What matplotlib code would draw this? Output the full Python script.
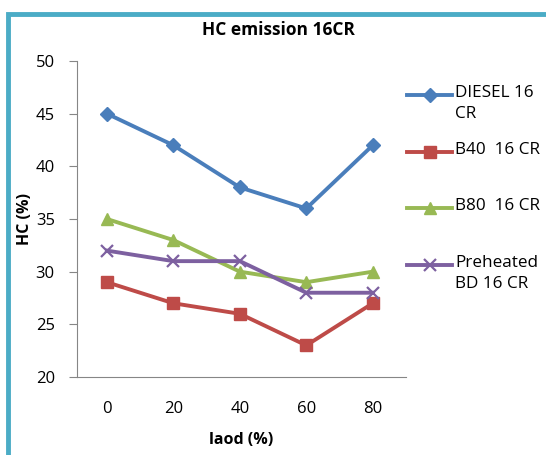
import matplotlib
matplotlib.use("Agg")
import matplotlib.pyplot as plt
from matplotlib.lines import Line2D
from matplotlib.patches import Rectangle

plt.rcParams['font.family'] = ['Open Sans', 'DejaVu Sans']

loads = ["0", "20", "40", "60", "80"]
diesel = [45, 42, 38, 36, 42]
b40 = [29, 27, 26, 23, 27]
b80 = [35, 33, 30, 29, 30]
preheated = [32, 31, 31, 28, 28]

labels = ["DIESEL 16\nCR", "B40  16 CR", "B80  16 CR", "Preheated\nBD 16 CR"]
colors = ["#4A7EBB", "#BE4B48", "#98B954", "#7D60A0"]
markers = ["D", "s", "^", "x"]
msizes = [7, 9, 9, 9]

W, H = 546, 455
fig = plt.figure(figsize=(W / 100, H / 100), dpi=100)
ax = fig.add_axes([77 / W, 78 / H, 329 / W, 316 / H])

x = range(len(loads))
lw = 2.8
for vals, c, m, ms in zip([diesel, b40, b80, preheated], colors, markers, msizes):
    ax.plot(x, vals, color=c, lw=lw, marker=m, ms=ms, mew=1.6 if m == "x" else 1)

ax.set_xlim(-0.45, 4.5)
ax.set_ylim(20, 50)
ax.set_xticks(list(x))
ax.set_xticklabels(loads)
ax.set_yticks(range(20, 51, 5))
for s in ["top", "right"]:
    ax.spines[s].set_visible(False)
for s in ["left", "bottom"]:
    ax.spines[s].set_color("#868686")
ax.tick_params(axis="x", length=0, pad=17, labelsize=12)
ax.tick_params(axis="y", length=6, color="#868686", pad=10, labelsize=12)

ax.set_xlabel("laod (%)", fontsize=11.5, fontweight="bold")
ax.xaxis.set_label_coords((241 - 77) / 329, -(432 - 377) / 316)
ax.set_ylabel("HC (%)", fontsize=11.5, fontweight="bold")
ax.yaxis.set_label_coords(-(77 - 33) / 329, (377 - 219) / 316)
fig.text(278 / W, 1 - 30 / H, "HC emission 16CR", ha="center", va="center",
         fontsize=12.5, fontweight="bold")

# legend drawn by hand so the key sits beside the first text line
ys = [95, 152, 208, 265]
for lab, c, m, ms, y in zip(labels, colors, markers, msizes, ys):
    fy = 1 - y / H
    fig.add_artist(Line2D([407 / W, 452 / W], [fy, fy], color=c, lw=lw,
                          transform=fig.transFigure))
    fig.add_artist(Line2D([429.5 / W], [fy], color=c, marker=m, ms=ms,
                          mew=1.6 if m == "x" else 1, transform=fig.transFigure))
    fig.text(455 / W, fy + 10 / H, lab, ha="left", va="top", fontsize=12.3,
             linespacing=1.38)

# teal frame around the chart area
fig.add_artist(Rectangle((8 / W, -0.1), 1.1, 1.1 - 14 / H,
                         transform=fig.transFigure, fill=False,
                         edgecolor="#4BACC6", lw=3.5))

fig.savefig("out.png", dpi=100)
